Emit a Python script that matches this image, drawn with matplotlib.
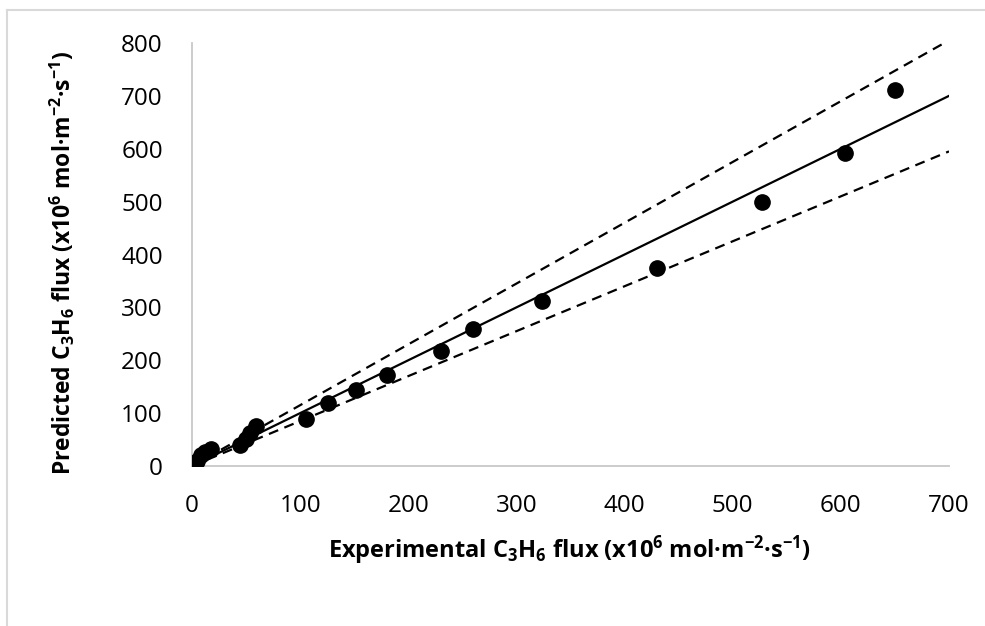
import numpy as np
import matplotlib.pyplot as plt
from matplotlib.lines import Line2D

# Данные: экспериментальный и расчетный поток C3H6
exp_flux = [3, 5, 8, 12, 18, 44, 50, 54, 59, 105, 126, 152, 180, 230, 260, 324, 430, 527, 604, 650]
pred_flux = [5, 9, 20, 27, 32, 40, 52, 62, 75, 89, 120, 144, 172, 218, 259, 312, 374, 499, 592, 712]

# Линия паритета и границы +-15 %
parity_x = [0, 700]
band = 0.15

x_ticks = [0, 100, 200, 300, 400, 500, 600, 700]
y_ticks = [0, 100, 200, 300, 400, 500, 600, 700, 800]

plt.rcParams['font.family'] = ['Open Sans', 'DejaVu Sans']
plt.rcParams['mathtext.fontset'] = 'custom'
plt.rcParams['mathtext.rm'] = 'Open Sans:bold'
plt.rcParams['mathtext.it'] = 'Open Sans:bold'
plt.rcParams['mathtext.bf'] = 'Open Sans:bold'
plt.rcParams['mathtext.default'] = 'rm'

fig = plt.figure(figsize=(9.85, 6.26), dpi=100)
ax = fig.add_axes([192 / 985, 1 - 466 / 626, 757 / 985, 423 / 626])

px = np.array(parity_x, dtype=float)
ax.plot(px, px, color='black', linewidth=1.6, zorder=2)
ax.plot(px, px * (1 + band), color='black', linewidth=1.6, dashes=(4.5, 3), zorder=2)
ax.plot(px, px * (1 - band), color='black', linewidth=1.6, dashes=(4.5, 3), zorder=2)

ax.plot(exp_flux, pred_flux, 'o', color='black', markersize=11, zorder=3)

ax.set_xlim(0, 700)
ax.set_ylim(0, 800)
ax.set_xticks(x_ticks)
ax.set_yticks(y_ticks)
ax.tick_params(length=0, labelsize=17.5)
ax.tick_params(axis='y', pad=21)
ax.tick_params(axis='x', pad=20)
for s in ['top', 'right']:
    ax.spines[s].set_visible(False)
for s in ['left', 'bottom']:
    ax.spines[s].set_color('#c8c8c8')
    ax.spines[s].set_linewidth(1.3)

# Подписи осей
fig.text(570 / 985, 1 - 550 / 626, 'Experimental C$_3$H$_6$ flux (x10$^6$ mol·m$^{-2}$·s$^{-1}$)',
         ha='center', va='center', fontsize=17, fontweight='bold')
fig.text(62 / 985, 1 - 263 / 626, 'Predicted C$_3$H$_6$ flux (x10$^6$ mol·m$^{-2}$·s$^{-1}$)',
         ha='center', va='center', rotation=90, fontsize=16.5, fontweight='bold')

# Рамка области диаграммы
fig.add_artist(Line2D([7 / 985, 7 / 985], [0, 1 - 10 / 626], color='#d9d9d9', linewidth=1.5))
fig.add_artist(Line2D([7 / 985, 1], [1 - 10 / 626, 1 - 10 / 626], color='#d9d9d9', linewidth=1.5))

fig.savefig('out.png', dpi=100)
